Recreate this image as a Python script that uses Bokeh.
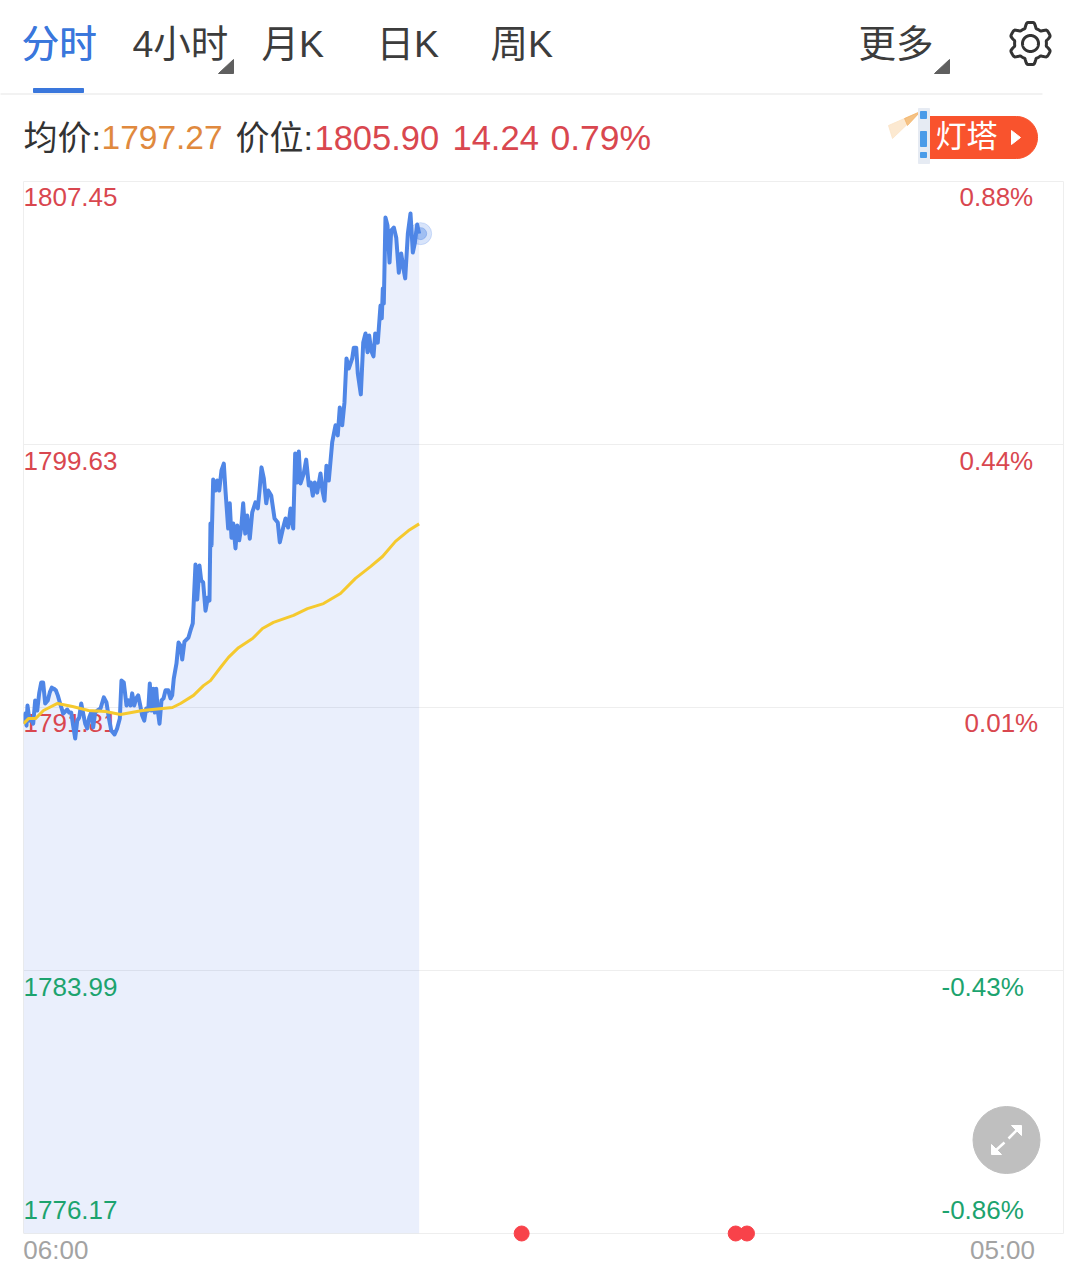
import numpy as np
from bokeh.embed import file_html
from bokeh.resources import INLINE
from bokeh.models import Range1d, FixedTicker
from bokeh.plotting import figure
from bokeh.core.properties import value

# ---------- data ----------
price_minutes = [0,2.3,4.0,5.3,8.0,10.2,12.9,15.5,18.2,20.8,23.5,26.1,28.8,32.2,34.9,37.6,40.2,42.9,45.5,48.2,52.7,55.3,58.0,60.6,63.3,65.9,68.6,71.3,73.9,76.6,79.2,81.9,84.5,87.2,89.8,92.5,95.1,98.2,102.2,106.6,110.1,113.2,116.4,120.8,124.3,127.8,130.0,133.1,136.7,139.3,142.0,144.2,146.9,149.5,152.2,154.9,157.5,160.2,162.8,165.5,167.6,169.8,172.1,174.2,176.1,178.2,180.5,183.1,185.8,188.4,192.0,195.1,197.3,199.4,203.0,205.7,208.3,210.6,213.6,218.9,221.6,224.6,228.2,230.5,233.5,235.8,238.4,241.5,244.6,246.8,248.1,249.5,251.7,254.8,257.0,259.7,262.7,265.8,268.0,271.6,273.7,276.0,278.3,281.3,283.6,286.2,288.9,291.5,294.2,296.8,300.3,303.5,307.8,310.9,313.2,315.8,318.9,322.1,324.7,328.7,333.1,337.4,340.1,344.6,347.7,351.2,354.3,357.9,360.5,363.2,365.3,367.6,371.9,375.1,378.6,381.2,383.9,386.5,389.7,394.1,396.7,399.4,402.0,405.1,409.6,414.0,417.0,419.7,422.9,425.9,428.6,431.6,436.2,438.3,441.5,443.6,447.6,450.8,453.8,456.5,458.7,461.4,464.4,466.7,470.1,473.7,475.4,476.8,478.1,480.3,483.0,485.7,487.9,491.4,494.6,498.0,501.2,503.9,506.5,510.0,513.5,516.6,519.2,522.4,525.0]
price_values = [1791.33,1791.63,1791.27,1791.87,1791.42,1791.48,1791.33,1792.02,1791.72,1792.23,1792.55,1792.55,1791.93,1792.02,1792.26,1792.40,1792.37,1792.32,1792.17,1791.96,1791.63,1791.69,1791.75,1791.66,1791.66,1791.27,1790.89,1791.42,1791.51,1791.93,1791.63,1791.33,1791.19,1791.51,1791.66,1791.22,1791.66,1791.72,1791.78,1792.11,1791.96,1791.51,1791.13,1791.01,1791.19,1791.48,1792.61,1792.55,1791.87,1792.02,1791.87,1792.23,1791.87,1792.08,1792.17,1791.87,1791.57,1791.42,1791.78,1791.72,1792.52,1791.72,1792.37,1791.66,1792.37,1791.72,1791.33,1792.02,1792.08,1792.32,1792.32,1792.08,1792.17,1792.67,1793.12,1793.74,1793.65,1793.24,1793.77,1793.89,1794.10,1794.31,1796.06,1795.02,1796.03,1795.59,1795.53,1794.69,1795.08,1794.99,1797.28,1796.63,1798.59,1798.26,1798.56,1798.26,1798.86,1799.06,1798.26,1797.13,1797.88,1796.86,1797.28,1796.54,1797.22,1796.78,1797.16,1797.88,1796.98,1797.52,1796.83,1797.61,1797.91,1797.73,1798.26,1798.95,1798.62,1797.88,1798.26,1798.11,1797.43,1797.31,1796.72,1797.16,1797.43,1797.16,1797.73,1797.13,1799.36,1798.50,1799.42,1798.47,1798.77,1799.18,1798.41,1798.50,1798.11,1798.50,1798.20,1798.77,1798.26,1797.96,1799.00,1798.56,1799.69,1800.20,1799.90,1800.73,1800.20,1800.88,1802.19,1801.89,1802.19,1802.51,1802.51,1801.74,1801.12,1802.66,1802.93,1802.37,1802.87,1802.42,1802.25,1802.93,1802.66,1803.76,1803.38,1804.27,1803.82,1806.38,1806.14,1805.04,1805.99,1806.08,1805.78,1804.74,1805.31,1804.89,1804.57,1805.90,1806.50,1805.34,1805.61,1806.17,1805.90]
avg_minutes = [0,6.6,15.9,26.5,45.1,65.0,86.3,108.8,128.7,157.9,197.7,208.3,225.6,238.8,248.1,261.4,272.0,285.3,303.9,317.1,331.7,358.3,376.8,398.1,420.6,440.5,460.4,476.4,493.6,510.9,525.0]
avg_values = [1791.33,1791.48,1791.48,1791.72,1791.93,1791.84,1791.72,1791.69,1791.6,1791.72,1791.81,1791.93,1792.17,1792.46,1792.61,1793.0,1793.3,1793.59,1793.86,1794.16,1794.34,1794.55,1794.75,1794.9,1795.2,1795.65,1796.0,1796.3,1796.75,1797.07,1797.27]
event_minutes = [661, 945, 960]
y_levels = [1807.45, 1799.63, 1791.81, 1783.99, 1776.17]
price_labels = ["1807.45", "1799.63", "1791.81", "1783.99", "1776.17"]
pct_labels = ["0.88%", "0.44%", "0.01%", "-0.43%", "-0.86%"]
level_colors = ["#d9474f", "#d9474f", "#d9474f", "#1ca36e", "#1ca36e"]
time_labels = ["06:00", "05:00"]
tabs = ["分时", "4小时", "月K", "日K", "周K", "更多"]

FONT = value("Liberation Sans, 'Noto Sans CJK SC'")

p = figure(width=1080, height=1272, x_range=Range1d(0, 1380), y_range=Range1d(1776.17, 1807.45),
           output_backend="svg", toolbar_location=None,
           min_border_left=23, min_border_right=17, min_border_top=181, min_border_bottom=39,
           outline_line_color="#eeeeee", background_fill_color="#ffffff")
# a second pair of ranges in page pixels, for the page furniture around the chart
p.extra_x_ranges["px"] = Range1d(23, 1063)
p.extra_y_ranges["px"] = Range1d(1233, 181)
PX = dict(x_range_name="px", y_range_name="px", level="overlay")

p.yaxis.visible = False
p.xgrid.visible = False
p.ygrid.ticker = FixedTicker(ticks=y_levels)
p.ygrid.grid_line_color = "#eeeeee"
p.ygrid.grid_line_width = 1

ax = p.xaxis[0]
ax.ticker = FixedTicker(ticks=[43, 1299])
ax.major_label_overrides = {43: time_labels[0], 1299: time_labels[1]}
ax.axis_line_color = None
ax.major_tick_line_color = None
ax.minor_tick_line_color = None
ax.major_label_text_color = "#a3a3a3"
ax.major_label_text_font = "Liberation Sans"
ax.major_label_text_font_size = "26px"
ax.major_label_standoff = -5

# ---------- chart ----------
p.varea(x=price_minutes, y1=[y_levels[-1]] * len(price_minutes), y2=price_values,
        fill_color="#3e6fe0", fill_alpha=0.11)

offs = [15.5, 16, 15.5, 16, -24]
p.text([23] * 5, y_levels, text=price_labels, text_color=level_colors, y_offset=offs,
       text_font=FONT, text_font_size="26px", text_baseline="middle", x_range_name="px")
p.text([959, 959, 964, 941, 941], y_levels, text=pct_labels, text_color=level_colors, y_offset=offs,
       text_font=FONT, text_font_size="26px", text_baseline="middle", x_range_name="px")

p.line(price_minutes, price_values, color="#4f86e6", line_width=4, line_join="round")
p.line(avg_minutes, avg_values, color="#f5c92e", line_width=3, line_join="round")

p.scatter([price_minutes[-1] + 2], [price_values[-1]], size=22, marker="circle", color="#4f86e6", alpha=0.22)
p.scatter([price_minutes[-1] + 2], [price_values[-1]], size=12, marker="circle", color="#4f86e6", alpha=0.4)

p.scatter(event_minutes, [y_levels[-1]] * 3, size=15, marker="circle", color="#f8424a", level="overlay")

# expand button
p.scatter([1006], [1139.5], size=67, marker="circle", color="#bfbfbf", **PX)
p.segment([994, 1018], [1151, 1128], [1004, 1008], [1142, 1138], color="#ffffff", line_width=2.5, **PX)
p.patches([[991, 1001, 991], [1021, 1011, 1021]], [[1154, 1154, 1144], [1125, 1125, 1135]], color="#ffffff", **PX)

# ---------- header ----------
tab_x = [21, 132, 261, 376, 490, 858]
tab_col = ["#3a77dc", "#3c3c3c", "#3c3c3c", "#3c3c3c", "#3c3c3c", "#3c3c3c"]
p.text(tab_x, [43] * 6, text=tabs, text_color=tab_col, text_font=FONT, text_font_size="37.5px",
       text_baseline="middle", **PX)
p.text([21.6], [43], text=[tabs[0]], text_color="#3a77dc", text_font=FONT, text_font_size="37.5px",
       text_baseline="middle", **PX)
p.quad(left=[33], right=[83], top=[88], bottom=[92], color="#3a77dc", **PX)
p.line([0, 1042], [93.5, 93.5], color="#eeeeee", line_width=1.5, **PX)
p.patch([218, 233, 233], [73, 73, 59], color="#5f5f5f", **PX)
p.patch([934, 949, 949], [73, 73, 59], color="#5f5f5f", **PX)

# settings gear
ang = np.linspace(0, 2 * np.pi, 145)
rad = 18.5 + 2.6 * np.clip(1.8 * np.cos(6 * (ang + np.pi / 6)), -1, 1)
p.line(1030 + rad * np.cos(ang), 43 + rad * np.sin(ang), color="#333333", line_width=3, **PX)
p.line(1030 + 8 * np.cos(ang), 43 + 8 * np.sin(ang), color="#333333", line_width=3, **PX)

for x0, txt, col, fs in [(23, "均价:", "#333333", "34px"), (101, "1797.27", "#e0893e", "33.5px"),
                         (235, "价位:", "#333333", "34px"), (314, "1805.90", "#d9474f", "34.5px"),
                         (452, "14.24", "#d9474f", "34.5px"), (550, "0.79%", "#d9474f", "35.5px")]:
    p.text([x0], [137], text=[txt], text_color=col, text_font=FONT, text_font_size=fs,
           text_baseline="middle", **PX)

# lighthouse badge
p.patch([928, 1016] + list(1016 + 21 * np.sin(np.linspace(0, np.pi, 30))) + [928],
        [116, 116] + list(116 + 21 * (1 - np.cos(np.linspace(0, np.pi, 30)))) + [158],
        color="#f9532d", **PX)
p.text([935], [136], text=["灯塔"], text_color="#ffffff", text_font=FONT, text_font_size="31px",
       text_baseline="middle", **PX)
p.patch([1011, 1020, 1011], [130, 137, 144], color="#ffffff", **PX)
p.patch([920, 888, 892], [111, 125, 138], color="#fbe3c6", alpha=0.8, **PX)
p.patch([920, 904, 907], [111, 118, 125], color="#f2b064", alpha=0.7, **PX)
p.quad(left=[918], right=[929], top=[108], bottom=[163], color="#e6ebf3", **PX)
p.quad(left=[920, 920, 920], right=[926, 926, 926], top=[111, 131, 152], bottom=[118, 146, 157],
       color="#4a9be8", **PX)

open("out.html", "w").write(file_html(p, INLINE))
